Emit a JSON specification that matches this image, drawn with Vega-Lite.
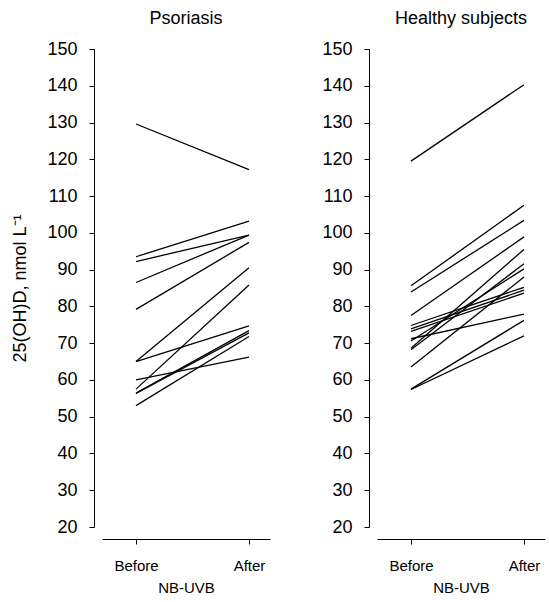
{
  "$schema": "https://vega.github.io/schema/vega-lite/v6.json",
  "background": "white",
  "padding": {"left": 11, "top": 10, "right": 5, "bottom": 5},
  "bounds": "flush",
  "spacing": 107,
  "datasets": {
    "lines": [
      {"group": "Psoriasis", "id": "P1", "phase": "Before", "value": 129.6},
      {"group": "Psoriasis", "id": "P1", "phase": "After", "value": 117.2},
      {"group": "Psoriasis", "id": "P2", "phase": "Before", "value": 93.5},
      {"group": "Psoriasis", "id": "P2", "phase": "After", "value": 103.2},
      {"group": "Psoriasis", "id": "P3", "phase": "Before", "value": 92.2},
      {"group": "Psoriasis", "id": "P3", "phase": "After", "value": 99.4},
      {"group": "Psoriasis", "id": "P4", "phase": "Before", "value": 86.5},
      {"group": "Psoriasis", "id": "P4", "phase": "After", "value": 99.4},
      {"group": "Psoriasis", "id": "P5", "phase": "Before", "value": 79.2},
      {"group": "Psoriasis", "id": "P5", "phase": "After", "value": 97.4},
      {"group": "Psoriasis", "id": "P6", "phase": "Before", "value": 65.0},
      {"group": "Psoriasis", "id": "P6", "phase": "After", "value": 90.5},
      {"group": "Psoriasis", "id": "P7", "phase": "Before", "value": 65.0},
      {"group": "Psoriasis", "id": "P7", "phase": "After", "value": 74.7},
      {"group": "Psoriasis", "id": "P8", "phase": "Before", "value": 60.0},
      {"group": "Psoriasis", "id": "P8", "phase": "After", "value": 66.2},
      {"group": "Psoriasis", "id": "P9", "phase": "Before", "value": 57.5},
      {"group": "Psoriasis", "id": "P9", "phase": "After", "value": 85.8},
      {"group": "Psoriasis", "id": "P10", "phase": "Before", "value": 56.4},
      {"group": "Psoriasis", "id": "P10", "phase": "After", "value": 73.4},
      {"group": "Psoriasis", "id": "P11", "phase": "Before", "value": 56.3},
      {"group": "Psoriasis", "id": "P11", "phase": "After", "value": 72.8},
      {"group": "Psoriasis", "id": "P12", "phase": "Before", "value": 53.0},
      {"group": "Psoriasis", "id": "P12", "phase": "After", "value": 71.8},
      {"group": "Healthy", "id": "H1", "phase": "Before", "value": 119.5},
      {"group": "Healthy", "id": "H1", "phase": "After", "value": 140.3},
      {"group": "Healthy", "id": "H2", "phase": "Before", "value": 85.6},
      {"group": "Healthy", "id": "H2", "phase": "After", "value": 107.5},
      {"group": "Healthy", "id": "H3", "phase": "Before", "value": 83.9},
      {"group": "Healthy", "id": "H3", "phase": "After", "value": 103.4},
      {"group": "Healthy", "id": "H4", "phase": "Before", "value": 77.5},
      {"group": "Healthy", "id": "H4", "phase": "After", "value": 98.9},
      {"group": "Healthy", "id": "H5", "phase": "Before", "value": 74.8},
      {"group": "Healthy", "id": "H5", "phase": "After", "value": 85.2},
      {"group": "Healthy", "id": "H6", "phase": "Before", "value": 73.9},
      {"group": "Healthy", "id": "H6", "phase": "After", "value": 84.4},
      {"group": "Healthy", "id": "H7", "phase": "Before", "value": 73.2},
      {"group": "Healthy", "id": "H7", "phase": "After", "value": 83.6},
      {"group": "Healthy", "id": "H8", "phase": "Before", "value": 71.2},
      {"group": "Healthy", "id": "H8", "phase": "After", "value": 77.9},
      {"group": "Healthy", "id": "H9", "phase": "Before", "value": 70.6},
      {"group": "Healthy", "id": "H9", "phase": "After", "value": 90.2},
      {"group": "Healthy", "id": "H10", "phase": "Before", "value": 68.6},
      {"group": "Healthy", "id": "H10", "phase": "After", "value": 95.5},
      {"group": "Healthy", "id": "H11", "phase": "Before", "value": 68.2},
      {"group": "Healthy", "id": "H11", "phase": "After", "value": 91.6},
      {"group": "Healthy", "id": "H12", "phase": "Before", "value": 63.5},
      {"group": "Healthy", "id": "H12", "phase": "After", "value": 88.0},
      {"group": "Healthy", "id": "H13", "phase": "Before", "value": 57.5},
      {"group": "Healthy", "id": "H13", "phase": "After", "value": 76.2},
      {"group": "Healthy", "id": "H14", "phase": "Before", "value": 57.4},
      {"group": "Healthy", "id": "H14", "phase": "After", "value": 72.0}
    ]
  },
  "hconcat": [
    {
      "width": 168,
      "height": 478,
      "data": {"name": "lines"},
      "transform": [{"filter": "datum.group === 'Psoriasis'"}],
      "title": {"text": "Psoriasis", "frame": "group", "offset": 12},
      "mark": {"type": "line", "color": "black", "strokeWidth": 1.3},
      "encoding": {
        "x": {
          "field": "phase", "type": "ordinal", "sort": ["Before", "After"],
          "scale": {"type": "point", "padding": 0.2434, "align": 0.618},
          "axis": {"title": "NB-UVB", "offset": 12}
        },
        "y": {
          "field": "value", "type": "quantitative",
          "scale": {"domain": [20, 150], "nice": false, "zero": false},
          "axis": {"title": "25(OH)D, nmol L⁻¹", "offset": 8}
        },
        "detail": {"field": "id"}
      }
    },
    {
      "width": 168,
      "height": 478,
      "data": {"name": "lines"},
      "transform": [{"filter": "datum.group === 'Healthy'"}],
      "title": {"text": "Healthy subjects", "frame": "group", "offset": 12},
      "mark": {"type": "line", "color": "black", "strokeWidth": 1.3},
      "encoding": {
        "x": {
          "field": "phase", "type": "ordinal", "sort": ["Before", "After"],
          "scale": {"type": "point", "padding": 0.2434, "align": 0.618},
          "axis": {"title": "NB-UVB", "offset": 12}
        },
        "y": {
          "field": "value", "type": "quantitative",
          "scale": {"domain": [20, 150], "nice": false, "zero": false},
          "axis": {"title": null, "offset": 8}
        },
        "detail": {"field": "id"}
      }
    }
  ],
  "config": {
    "font": "Liberation Sans",
    "view": {"stroke": null},
    "title": {"fontSize": 18, "fontWeight": "normal", "color": "black", "anchor": "middle"},
    "axisX": {
      "domainColor": "black", "tickColor": "black", "tickSize": 5,
      "labelAngle": 0, "labelFontSize": 15, "labelColor": "black", "labelPadding": 14,
      "titleFontSize": 15, "titleFontWeight": "normal", "titleColor": "black", "titlePadding": 7,
      "grid": false
    },
    "axisY": {
      "domainColor": "black", "tickColor": "black",
      "values": [20, 25, 30, 35, 40, 45, 50, 55, 60, 65, 70, 75, 80, 85, 90, 95, 100, 105, 110, 115, 120, 125, 130, 135, 140, 145, 150],
      "tickSize": {"condition": {"test": "datum.value % 10 === 0", "value": 5}, "value": 3},
      "labelExpr": "datum.value % 10 === 0 ? datum.label : ''",
      "labelOverlap": false, "labelFlush": false,
      "labelFontSize": 18, "labelColor": "black", "labelPadding": 12,
      "titleFontSize": 18, "titleFontWeight": "normal", "titleColor": "black", "titlePadding": 17,
      "grid": false
    }
  }
}
